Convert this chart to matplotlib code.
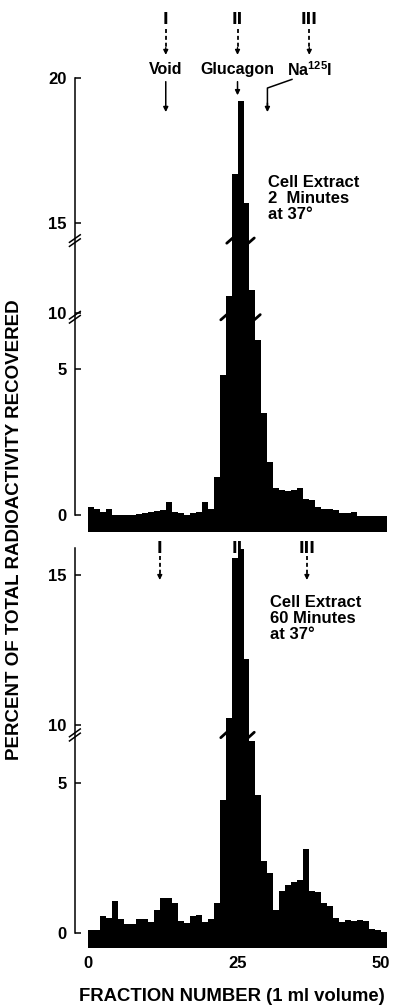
import numpy as np
import matplotlib
matplotlib.use('Agg')
import matplotlib.pyplot as plt
from matplotlib.transforms import ScaledTranslation

plt.rcParams['font.family'] = ['Liberation Sans', 'DejaVu Sans']
plt.rcParams['font.weight'] = 'bold'
plt.rcParams['mathtext.default'] = 'regular'

# fraction edges (1 ml fractions) and percent of recovered radioactivity per fraction
edges = np.arange(0, 51)
pct_2min = [0.25, 0.2, 0.1, 0.2, 0.0, 0.0, 0.0, 0.0, 0.02, 0.05,
            0.1, 0.12, 0.15, 0.45, 0.1, 0.05, 0.0, 0.05, 0.1, 0.45,
            0.2, 1.3, 4.8, 10.6, 16.7, 19.2, 15.7, 10.8, 6.0, 3.5,
            1.8, 0.9, 0.85, 0.8, 0.85, 0.9, 0.55, 0.5, 0.25, 0.2,
            0.2, 0.15, 0.05, 0.05, 0.1, -0.05, -0.05, -0.05, -0.05, -0.05]
pct_60min = [0.1, 0.1, 0.55, 0.5, 1.05, 0.45, 0.3, 0.3, 0.45, 0.45,
             0.35, 0.75, 1.15, 1.15, 1.0, 0.4, 0.33, 0.55, 0.6, 0.35,
             0.45, 1.0, 4.43, 10.23, 15.57, 15.87, 12.2, 6.4, 4.6, 2.4,
             2.0, 0.77, 1.4, 1.6, 1.7, 1.75, 2.8, 1.4, 1.35, 1.0,
             0.9, 0.5, 0.35, 0.43, 0.4, 0.43, 0.4, 0.13, 0.1, 0.03]

yticks_top = [0, 5, 10, 15, 20]
yticks_bottom = [0, 5, 10, 15]
xticks = [0, 25, 50]

# broken y axes: (value where lower piece stops, value where upper piece restarts)
breaks_top = [(6.8, 9.86), (12.5, 14.4)]
breaks_bottom = [(6.6, 9.67)]

marker_labels = ['I', 'II', 'III']
marker_pos_top = [13, 25, 37]
marker_pos_bottom = [12, 25, 36.6]
standard_names = ['Void', 'Glucagon', 'Na$^{125}$I']
standard_pos = [13, 25, 30]   # where each arrow points


def make_scale(breaks):
    v_knots, u_knots = [-5.0], [-5.0]
    shift = 0.0
    for lo, hi in breaks:
        v_knots += [lo, hi]
        u_knots += [lo - shift, lo - shift + 0.001]
        shift += hi - lo - 0.001
    v_knots.append(40.0)
    u_knots.append(40.0 - shift)
    fwd = lambda v: np.interp(v, v_knots, u_knots)
    inv = lambda u: np.interp(u, u_knots, v_knots)
    return fwd, inv


def setup_panel(ax, vals, breaks, yticks, ylim, spine_top):
    fwd, inv = make_scale(breaks)
    ax.set_yscale('function', functions=(fwd, inv))
    ax.set_xlim(0, 50)
    ax.set_ylim(*ylim)
    ax.stairs(vals, edges, baseline=ylim[0], fill=True, color='black', lw=0)
    for s in ['top', 'right', 'bottom']:
        ax.spines[s].set_visible(False)
    x_sp = -2.2
    ax.spines['left'].set_position(('data', x_sp))
    ax.spines['left'].set_bounds(0, spine_top)
    ax.spines['left'].set_linewidth(1.1)
    ax.set_yticks(yticks)
    ax.set_yticklabels([str(t) for t in yticks])
    ax.tick_params(axis='y', direction='in', length=4.5, width=1.1, pad=6, labelsize=12)
    ax.set_xticks([])

    vals = np.asarray(vals)
    for lo, hi in breaks:
        u0 = fwd(lo)
        # double slash on the axis line
        for du in (-0.07, 0.07):
            ys = inv(np.array([u0 + du - 0.13, u0 + du + 0.13]))
            ax.plot([x_sp - 0.9, x_sp + 0.9], ys, color='k', lw=1.1, clip_on=False)
        # small cut marks sticking out of the peak
        tall = np.where(vals > hi)[0]
        if len(tall):
            left, right = edges[tall[0]], edges[tall[-1] + 1]
            ys = inv(np.array([u0 - 0.09, u0 + 0.09]))
            ax.plot([left - 0.8, left + 0.2], ys, color='k', lw=2.0, solid_capstyle='round')
            ax.plot([right - 0.2, right + 0.8], ys, color='k', lw=2.0, solid_capstyle='round')
    return fwd, inv


def dashed_arrow(ax, x, y_top, y_tip):
    tr = ax.get_xaxis_transform()
    ax.plot([x, x], [y_top, y_tip + 0.012], transform=tr, color='k', lw=1.3,
            dashes=(2.2, 1.6), clip_on=False)
    ax.annotate('', xy=(x, y_tip), xycoords=tr, xytext=(x, y_tip + 0.016), textcoords=tr,
                arrowprops=dict(arrowstyle='-|>', color='k', lw=1, mutation_scale=7,
                                shrinkA=0, shrinkB=0))


fig = plt.figure(figsize=(3.94, 10.07), dpi=100)
ax1 = fig.add_axes([0.2234, 0.4717, 0.7589, 0.4508])
ax2 = fig.add_axes([0.2234, 0.0586, 0.7589, 0.3972])

setup_panel(ax1, pct_2min, breaks_top, yticks_top, (-0.6, 20), 20)
setup_panel(ax2, pct_60min, breaks_bottom, yticks_bottom, (-0.5, 15.9), 15.9)

# top panel: fraction markers and standards
tr1 = ax1.get_xaxis_transform()
for lab, xp in zip(marker_labels, marker_pos_top):
    ax1.text(xp, 1.128, lab, transform=tr1, ha='center', va='center', fontsize=11,
             family='DejaVu Sans', fontweight='bold')
    dashed_arrow(ax1, xp, 1.108, 1.051)
for name, xp in zip(standard_names, marker_pos_top):
    ax1.text(xp, 1.018, name, transform=tr1, ha='center', va='center', fontsize=11.5)
for xp, tip in zip(standard_pos[:2], [0.925, 0.962]):
    ax1.annotate('', xy=(xp, tip), xycoords=tr1, xytext=(xp, 0.992), textcoords=tr1,
                 arrowprops=dict(arrowstyle='-|>', color='k', lw=1.1, mutation_scale=7,
                                 shrinkA=0, shrinkB=0))
# bent arrow from Na125I label
ax1.plot([34.1, standard_pos[2], standard_pos[2]], [0.997, 0.978, 0.94], transform=tr1,
         color='k', lw=1.1, clip_on=False)
ax1.annotate('', xy=(standard_pos[2], 0.925), xycoords=tr1, xytext=(standard_pos[2], 0.945),
             textcoords=tr1, arrowprops=dict(arrowstyle='-|>', color='k', lw=1.1,
                                             mutation_scale=7, shrinkA=0, shrinkB=0))
ax1.text(30.1, 0.787, 'Cell Extract\n2  Minutes\nat 37°', transform=tr1, ha='left', va='top',
         fontsize=12, linespacing=1.1)

# bottom panel markers
tr2 = ax2.get_xaxis_transform()
for lab, xp in zip(marker_labels, marker_pos_bottom):
    ax2.text(xp, 1.0, lab, transform=tr2, ha='center', va='center', fontsize=11,
             family='DejaVu Sans', fontweight='bold')
    if lab != 'II':
        dashed_arrow(ax2, xp, 0.98, 0.92)
ax2.text(30.4, 0.883, 'Cell Extract\n60 Minutes\nat 37°', transform=tr2, ha='left', va='top',
         fontsize=12, linespacing=1.1)

ax2.set_xticks(xticks)
ax2.set_xticklabels([str(t) for t in xticks])
ax2.tick_params(axis='x', length=0, pad=6, labelsize=12)
# keep the last label inside the picture
last = ax2.get_xticklabels()[-1]
last.set_transform(last.get_transform() + ScaledTranslation(-6 / 100, 0, fig.dpi_scale_trans))

fig.text(0.036, 0.474, 'PERCENT OF TOTAL RADIOACTIVITY RECOVERED', rotation=90,
         ha='center', va='center', fontsize=13.5)
fig.text(0.589, 0.0105, 'FRACTION NUMBER (1 ml volume)', ha='center', va='center', fontsize=13.3)

fig.savefig('out.png', dpi=100)
